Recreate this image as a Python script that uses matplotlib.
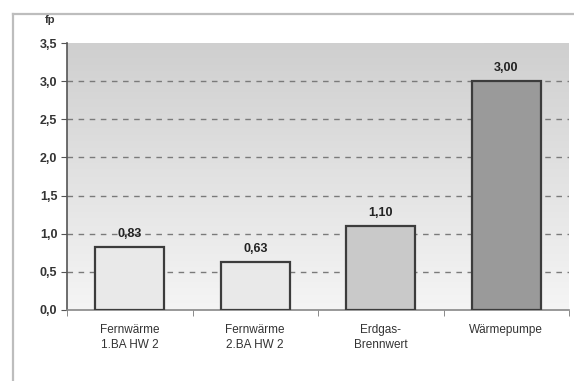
import matplotlib
matplotlib.use("Agg")
import matplotlib.pyplot as plt
import numpy as np
from matplotlib.lines import Line2D

plt.rcParams["font.family"] = ["Liberation Sans", "DejaVu Sans"]

categories = ["Fernwärme\n1.BA HW 2", "Fernwärme\n2.BA HW 2", "Erdgas-\nBrennwert", "Wärmepumpe"]
values = [0.83, 0.63, 1.10, 3.00]
bar_colors = ["#e9e9e9", "#e9e9e9", "#c9c9c9", "#9a9a9a"]
yticks = [0.0, 0.5, 1.0, 1.5, 2.0, 2.5, 3.0, 3.5]

fig = plt.figure(figsize=(5.74, 3.81), dpi=100)
fig.patch.set_facecolor("white")

# plot area in pixel terms: x 67..569, y 43..310
W, H = 574, 381
ax = fig.add_axes([67 / W, 1 - 310 / H, (569 - 67) / W, (310 - 43) / H])

# outer frame (top and left edges visible)
fig.add_artist(Line2D([13 / W, 1.0], [1 - 14 / H, 1 - 14 / H], transform=fig.transFigure,
                      color="#bdbdbd", lw=1.6))
fig.add_artist(Line2D([13 / W, 13 / W], [0.0, 1 - 14 / H], transform=fig.transFigure,
                      color="#bdbdbd", lw=1.6))

x = np.arange(len(categories))
ax.set_xlim(-0.5, len(categories) - 0.5)
ax.set_ylim(0, 3.5)

# vertical gradient background, darker at the top
grad = np.linspace(0, 1, 256).reshape(-1, 1)
ax.imshow(grad, cmap=matplotlib.colors.LinearSegmentedColormap.from_list(
    "bg", ["#f5f5f5", "#cfcfcf"]), aspect="auto", origin="lower",
    extent=(-0.5, len(categories) - 0.5, 0, 3.5), zorder=0)

for t in yticks[1:-1]:
    ax.axhline(t, color="#7a7a7a", lw=1.0, ls=(0, (4, 4)), zorder=1)

ax.bar(x, values, width=0.55, color=bar_colors, edgecolor="#3c3c3c", linewidth=1.6, zorder=3)

for xi, v in zip(x, values):
    ax.annotate(f"{v:.2f}".replace(".", ","), xy=(xi, v), xytext=(0, 5),
                textcoords="offset points", ha="center", va="bottom",
                fontsize=9, fontweight="bold", color="#222222")

ax.set_yticks(yticks)
ax.set_yticklabels([f"{t:.1f}".replace(".", ",") for t in yticks],
                   fontsize=9, fontweight="bold", color="#333333")
ax.set_xticks(x)
ax.set_xticklabels(categories, fontsize=8.5, color="#333333", linespacing=1.3)
ax.set_xticks(np.arange(-0.5, len(categories)), minor=True)
ax.tick_params(axis="x", which="major", length=0, pad=10)
ax.tick_params(axis="x", which="minor", length=4, color="#777777", direction="out")
ax.tick_params(axis="y", length=4, color="#555555", direction="out", pad=3)

for side in ["top", "right"]:
    ax.spines[side].set_visible(False)
ax.spines["left"].set_color("#555555")
ax.spines["left"].set_linewidth(1.2)
ax.spines["bottom"].set_color("#888888")
ax.spines["bottom"].set_linewidth(1.2)

fig.text(50 / W, 1 - 20 / H, "fp", fontsize=8, fontweight="bold", color="#333333",
         ha="center", va="center")

fig.savefig("out.png", dpi=100)
